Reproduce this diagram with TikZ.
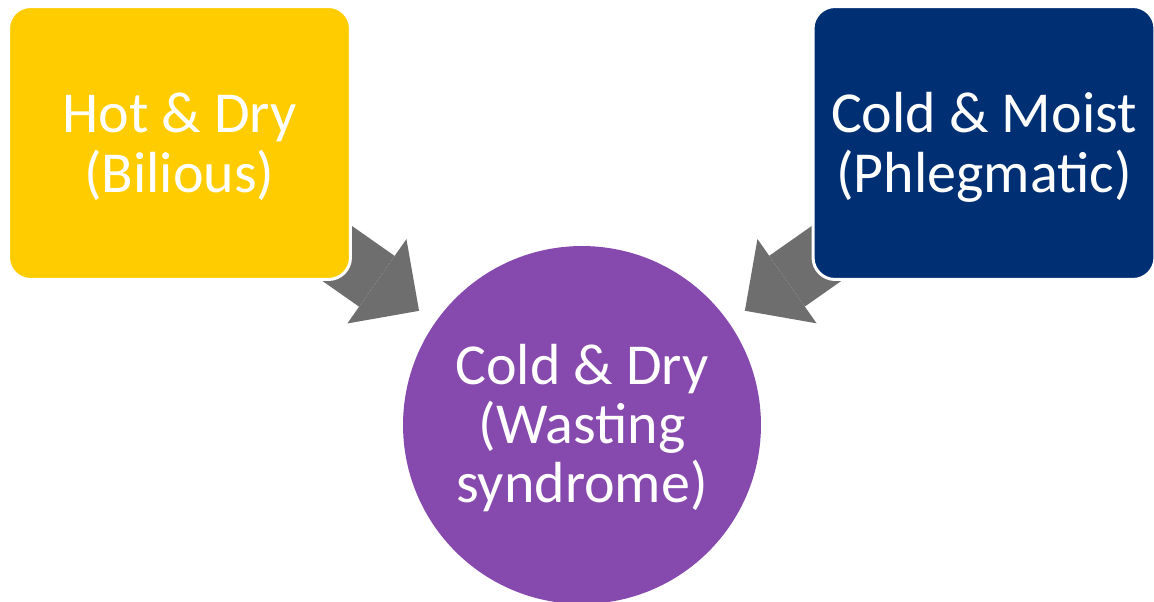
\documentclass[tikz,border=0pt]{standalone}
\usepackage{fontspec}
\setmainfont{Carlito}
\usetikzlibrary{arrows.meta,backgrounds}
\definecolor{humyellow}{RGB}{255,204,0}
\definecolor{humnavy}{RGB}{0,48,115}
\definecolor{humpurple}{RGB}{134,73,173}
\definecolor{humgray}{RGB}{110,110,110}
\tikzset{
  humour/.style={rectangle, rounded corners=0.44cm, draw=white, line width=0.06cm,
    minimum width=6.84cm, minimum height=5.46cm, text=white, align=center,
    text height=2cm, text depth=0pt, font=\fontsize{33}{34.6}\selectfont},
  result/.style={circle, fill=humpurple, minimum size=7.16cm, inner sep=0pt,
    outer sep=0pt, text=white, align=center, text height=3.12cm, text depth=0pt,
    font=\fontsize{33}{33.8}\selectfont},
  flow/.style={humgray, line width=1.24cm, shorten >=0.4cm,
    -{Triangle[width=2.06cm, length=1.03cm, line width=0pt]}}
}
\begin{document}
\begin{tikzpicture}[x=0.02cm, y=-0.02cm]
  \useasboundingbox (0,0) rectangle (1154,602);
  % Define nodes
  \node[humour, fill=humyellow] (hotdry) at (179.5,143) {Hot \& Dry\\(Bilious)};
  \node[humour, fill=humnavy] (coldmoist) at (984,143) {Cold \& Moist\\(Phlegmatic)};
  \node[result] (colddry) at (582,425) {Cold \& Dry\\(Wasting\\syndrome)};

  % Connect the nodes
  \begin{pgfonlayer}{background}
    \draw[flow] (hotdry.center) -- (colddry);
    \draw[flow] (coldmoist.center) -- (colddry);
  \end{pgfonlayer}
\end{tikzpicture}
\end{document}
